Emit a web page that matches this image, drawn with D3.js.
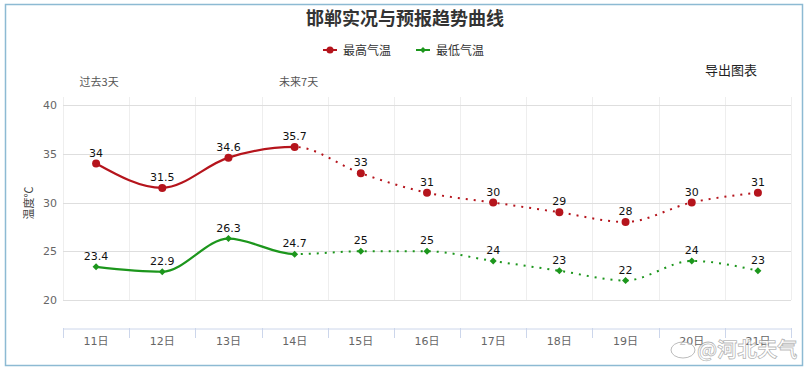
<!DOCTYPE html>
<html>
<head>
<meta charset="utf-8">
<script src="https://cdn.jsdelivr.net/npm/d3@7"></script>
<style>
  body { margin: 0; background: #fff; }
  text { font-family: "DejaVu Sans", "Noto Sans CJK SC", sans-serif; }
  .cjk { font-family: "Noto Sans CJK SC", sans-serif; }
</style>
</head>
<body>
<div id="container"></div>
<script>
// days on the x axis
const days = ['11日', '12日', '13日', '14日', '15日', '16日', '17日', '18日', '19日', '20日', '21日'];
// max / min temperature
const maxTemp = [34, 31.5, 34.6, 35.7, 33, 31, 30, 29, 28, 30, 31];
const minTemp = [23.4, 22.9, 26.3, 24.7, 25, 25, 24, 23, 22, 24, 23];
const yTicks = [20, 25, 30, 35, 40];
const splitIndex = 3; // observed up to 14日, forecast after

const width = 812, height = 370;
const red = '#b5141c', green = '#1c961c';

const svg = d3.select('#container').append('svg')
    .attr('width', width)
    .attr('height', height);

// outer border
svg.append('rect')
    .attr('x', 5.5).attr('y', 4.5)
    .attr('width', 797).attr('height', 361)
    .attr('fill', '#fff')
    .attr('stroke', '#8dbad3')
    .attr('stroke-width', 1.5);

// scales
const xScale = d3.scaleBand().domain(days).range([63, 791]);
const cx = d => xScale(d) + xScale.bandwidth() / 2;
const yScale = d3.scaleLinear().domain([20, 40]).range([300, 105]);

// title
svg.append('text')
    .attr('class', 'cjk')
    .attr('x', 405).attr('y', 25)
    .attr('text-anchor', 'middle')
    .attr('font-size', 18).attr('font-weight', 'bold')
    .attr('fill', '#333')
    .text('邯郸实况与预报趋势曲线');

// legend
const legend = [
    {name: '最高气温', color: red, x: 323, sym: 'circle'},
    {name: '最低气温', color: green, x: 416, sym: 'diamond'}
];
legend.forEach(l => {
    svg.append('line')
        .attr('x1', l.x).attr('x2', l.x + 14)
        .attr('y1', 50).attr('y2', 50)
        .attr('stroke', l.color).attr('stroke-width', 2);
    if (l.sym === 'circle') {
        svg.append('circle').attr('cx', l.x + 7).attr('cy', 50).attr('r', 3.5).attr('fill', l.color);
    } else {
        svg.append('path').attr('d', diamond(l.x + 7, 50, 3)).attr('fill', l.color);
    }
    svg.append('text')
        .attr('class', 'cjk')
        .attr('x', l.x + 20).attr('y', 55)
        .attr('font-size', 12).attr('fill', '#333')
        .text(l.name);
});

// export button text
svg.append('text')
    .attr('class', 'cjk')
    .attr('x', 705).attr('y', 75)
    .attr('font-size', 13).attr('fill', '#222')
    .text('导出图表');

// period labels
svg.append('text')
    .attr('class', 'cjk')
    .attr('x', cx(days[0]) + 3).attr('y', 86)
    .attr('text-anchor', 'middle')
    .attr('font-size', 11).attr('fill', '#555')
    .text('过去3天');
svg.append('text')
    .attr('class', 'cjk')
    .attr('x', cx(days[splitIndex]) + 4).attr('y', 86)
    .attr('text-anchor', 'middle')
    .attr('font-size', 11).attr('fill', '#555')
    .text('未来7天');

// vertical grid lines
svg.append('g').selectAll('line')
    .data(days.concat(['end']))
    .enter().append('line')
    .attr('x1', (d, i) => i < days.length ? Math.round(xScale(d)) + 0.5 : 791.5)
    .attr('x2', (d, i) => i < days.length ? Math.round(xScale(d)) + 0.5 : 791.5)
    .attr('y1', 97).attr('y2', 300)
    .attr('stroke', '#eeeeee');

// horizontal grid lines
svg.append('g').selectAll('line')
    .data(yTicks)
    .enter().append('line')
    .attr('x1', 63).attr('x2', 791)
    .attr('y1', d => Math.round(yScale(d)) + 0.5)
    .attr('y2', d => Math.round(yScale(d)) + 0.5)
    .attr('stroke', '#dedede');

// y axis
const yAxis = svg.append('g')
    .attr('transform', 'translate(63,0)')
    .call(d3.axisLeft(yScale).tickValues(yTicks).tickSize(0).tickPadding(6));
yAxis.select('.domain').remove();
yAxis.selectAll('text')
    .attr('font-size', 11).attr('fill', '#666')
    .style('font-family', '"DejaVu Sans", sans-serif');

svg.append('text')
    .attr('class', 'cjk')
    .attr('transform', 'translate(33,203) rotate(-90)')
    .attr('text-anchor', 'middle')
    .attr('font-size', 11).attr('fill', '#444')
    .text('温度℃');

// x axis
const xAxis = svg.append('g')
    .attr('transform', 'translate(0,328.5)')
    .call(d3.axisBottom(xScale).tickSize(0).tickPadding(9));
xAxis.select('.domain').attr('stroke', '#ccd6eb');
xAxis.selectAll('text')
    .attr('font-size', 11).attr('fill', '#666');
svg.append('g').selectAll('line')
    .data(days.concat(['end']))
    .enter().append('line')
    .attr('x1', (d, i) => i < days.length ? Math.round(xScale(d)) + 0.5 : 791.5)
    .attr('x2', (d, i) => i < days.length ? Math.round(xScale(d)) + 0.5 : 791.5)
    .attr('y1', 328).attr('y2', 338)
    .attr('stroke', '#ccd6eb');

// clip paths for observed (solid) and forecast (dotted)
const splitX = cx(days[splitIndex]);
const defs = svg.append('defs');
defs.append('clipPath').attr('id', 'clipSolid')
    .append('rect').attr('x', 0).attr('y', 0).attr('width', splitX).attr('height', height);
defs.append('clipPath').attr('id', 'clipDot')
    .append('rect').attr('x', splitX).attr('y', 0).attr('width', width - splitX).attr('height', height);

const line = d3.line()
    .x((d, i) => cx(days[i]))
    .y(d => yScale(d))
    .curve(d3.curveMonotoneX);

function diamond(x, y, r) {
    return `M${x},${y - r}L${x + r},${y}L${x},${y + r}L${x - r},${y}Z`;
}

function drawSeries(values, color, sym) {
    const g = svg.append('g');
    g.append('path')
        .attr('d', line(values))
        .attr('fill', 'none')
        .attr('stroke', color)
        .attr('stroke-width', 2.2)
        .attr('clip-path', 'url(#clipSolid)');
    g.append('path')
        .attr('d', line(values))
        .attr('fill', 'none')
        .attr('stroke', color)
        .attr('stroke-width', 2)
        .attr('stroke-dasharray', '2,6')
        .attr('clip-path', 'url(#clipDot)');

    if (sym === 'circle') {
        g.selectAll('circle')
            .data(values)
            .enter().append('circle')
            .attr('cx', (d, i) => cx(days[i]))
            .attr('cy', d => yScale(d))
            .attr('r', 4)
            .attr('fill', color);
    } else {
        g.selectAll('path.marker')
            .data(values)
            .enter().append('path')
            .attr('class', 'marker')
            .attr('d', (d, i) => diamond(cx(days[i]), yScale(d), 3.5))
            .attr('fill', color);
    }

    g.selectAll('text')
        .data(values)
        .enter().append('text')
        .attr('x', (d, i) => cx(days[i]))
        .attr('y', d => yScale(d) - 7)
        .attr('text-anchor', 'middle')
        .attr('font-size', 11)
        .attr('fill', '#111')
        .text(d => d);
}

drawSeries(maxTemp, red, 'circle');
drawSeries(minTemp, green, 'diamond');

// watermark
svg.append('text')
    .attr('class', 'cjk')
    .attr('x', 697).attr('y', 357)
    .attr('font-size', 20).attr('font-weight', 'bold')
    .attr('fill', 'rgba(255,255,255,0.75)')
    .attr('stroke', 'rgba(120,120,120,0.55)')
    .attr('stroke-width', 0.8)
    .text('@河北天气');
svg.append('ellipse')
    .attr('cx', 683).attr('cy', 350).attr('rx', 12).attr('ry', 8)
    .attr('fill', 'rgba(255,255,255,0.6)')
    .attr('stroke', 'rgba(120,120,120,0.5)');
</script>
</body>
</html>
